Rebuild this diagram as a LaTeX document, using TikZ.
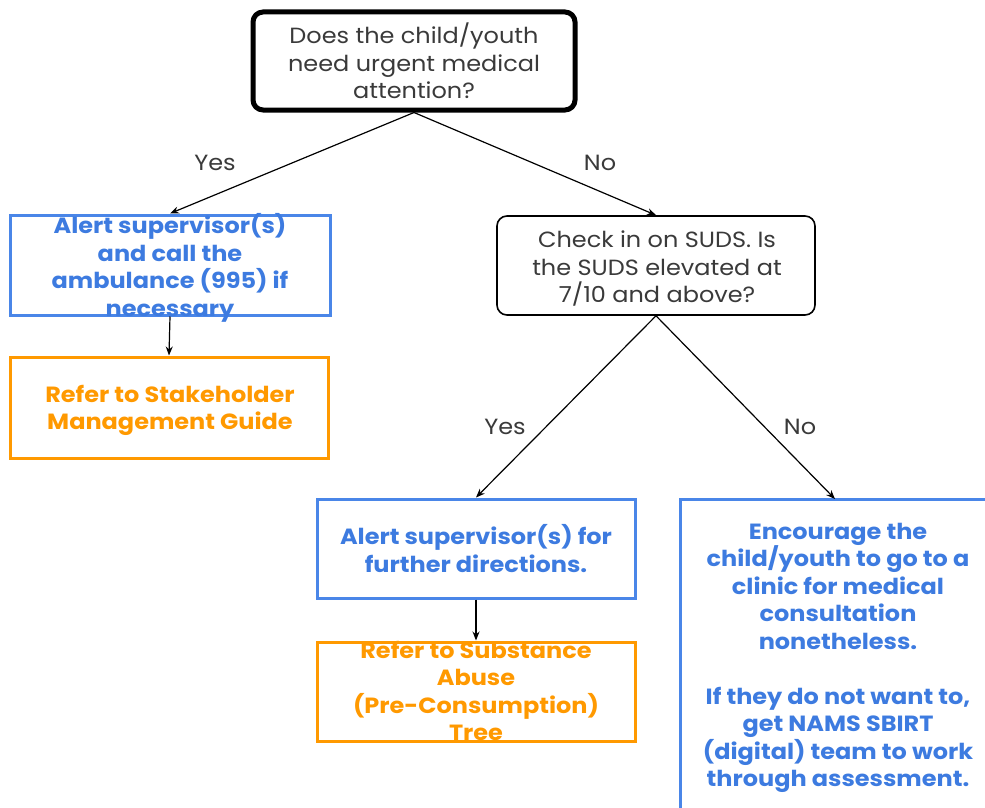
\documentclass[tikz,border=0pt]{standalone}
\usepackage{fontspec}
\setmainfont{Poppins}[FakeStretch=1.09]
\usetikzlibrary{arrows.meta}
\definecolor{boxblue}{HTML}{4A86E8}
\definecolor{txtblue}{HTML}{3D7BE0}
\definecolor{boxorange}{HTML}{FF9900}
\definecolor{txtgray}{HTML}{3A3A3A}
\tikzset{
  question/.style={draw=black, rounded corners=10pt, fill=white, inner sep=0pt},
  bluebox/.style={draw=boxblue, line width=3pt, inner sep=0pt},
  orangebox/.style={draw=boxorange, line width=3pt, inner sep=0pt},
  qtext/.style={text=txtgray, align=center, font=\fontsize{22}{27.5}\selectfont},
  btext/.style={text=txtblue, align=center, font=\fontsize{22}{27.5}\selectfont\bfseries},
  otext/.style={text=boxorange, align=center, font=\fontsize{22}{27.5}\selectfont\bfseries},
  lbl/.style={text=txtgray, font=\fontsize{22}{24}\selectfont},
  flow/.style={-{Stealth[length=9pt,width=7pt]}, line width=1.2pt, black},
}
\begin{document}
\begin{tikzpicture}[x=1pt,y=-1pt]
  \useasboundingbox (0,0) rectangle (985,808);
  \clip (0,0) rectangle (985,808);
  \fill[white] (0,0) rectangle (985,808);

  % decision boxes
  \node[question, line width=5pt, minimum width=322pt, minimum height=98pt] (q1) at (414,61) {};
  \node[qtext] at (q1.center) {Does the child/youth\\need urgent medical\\attention?};

  \node[question, line width=1.6pt, minimum width=318pt, minimum height=99pt] (q2) at (656,265.5) {};
  \node[qtext] at (657,268.5) {Check in on SUDS. Is\\the SUDS elevated at\\7/10 and above?};

  % action boxes
  \node[bluebox, minimum width=320pt, minimum height=100pt] (a1) at (170,265) {};
  \node[btext] at (170,268) {Alert supervisor(s)\\and call the\\ambulance (995) if\\necessary};

  \node[orangebox, minimum width=318pt, minimum height=101pt] (r1) at (169,407.5) {};
  \node[otext] at (170,410.5) {Refer to Stakeholder\\Management Guide};

  \node[bluebox, minimum width=318pt, minimum height=99pt] (a2) at (476,548.5) {};
  \node[btext] at (a2.center) {Alert supervisor(s) for\\further directions.};

  \node[orangebox, minimum width=318pt, minimum height=99pt] (r2) at (476,691.5) {};
  \node[otext] at (476,691) {Refer to Substance\\Abuse\\(Pre-Consumption)\\Tree};

  \node[bluebox, minimum width=330pt, minimum height=340pt] (a3) at (845,669) {};
  \node[btext] at (838,658) {Encourage the\\child/youth to go to a\\clinic for medical\\consultation\\nonetheless.\\[27.5pt]If they do not want to,\\get NAMS SBIRT\\(digital) team to work\\through assessment.};

  % connectors
  \coordinate (a3top) at (835,499);
  \draw[flow] (q1.south) -- (a1.north);
  \draw[flow] (q1.south) -- (q2.north);
  \draw[flow] (a1.south) -- (r1.north);
  \draw[flow] (q2.south) -- (a2.north);
  \draw[flow] (q2.south) -- (a3top);
  \draw[flow] (a2.south) -- (r2.north);

  % branch labels
  \node[lbl] at (215,163) {Yes};
  \node[lbl] at (600,163) {No};
  \node[lbl] at (505,427) {Yes};
  \node[lbl] at (800,427) {No};
\end{tikzpicture}
\end{document}
